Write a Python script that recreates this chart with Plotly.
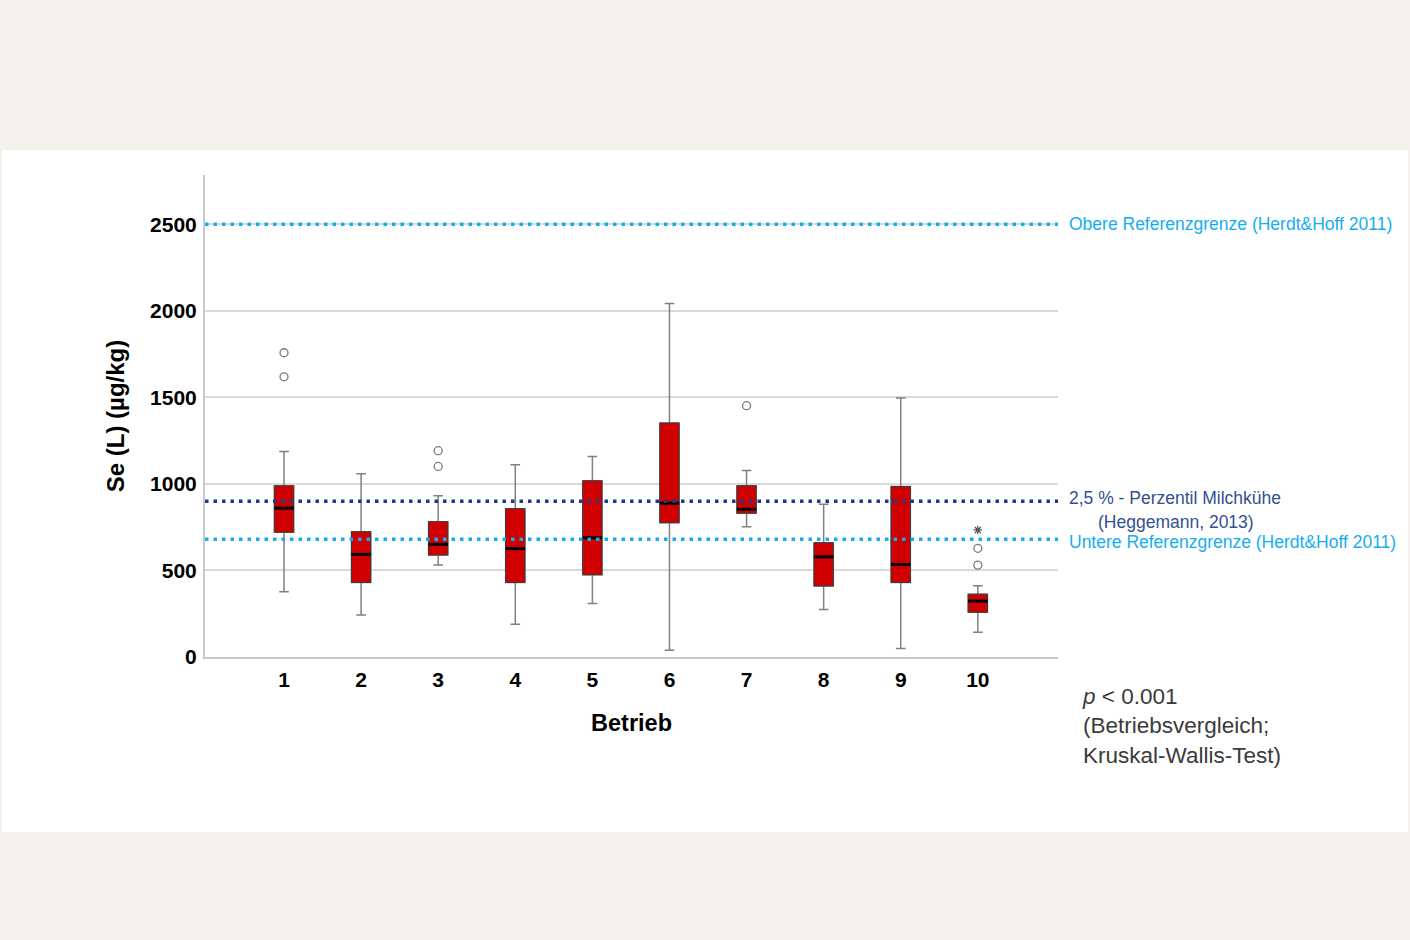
import plotly.graph_objects as go

# ---- data ----
betriebe = [1, 2, 3, 4, 5, 6, 7, 8, 9, 10]
tick_labels = ["1", "2", "3", "4", "5", "6", "7", "8", "9", "10"]
lowerfence = [377, 242, 531, 189, 309, 39, 753, 275, 49, 143]
q1 = [721, 431, 589, 431, 475, 776, 831, 410, 431, 259]
median = [860, 593, 651, 626, 689, 889, 854, 579, 535, 323]
q3 = [989, 724, 782, 857, 1018, 1352, 989, 660, 985, 363]
upperfence = [1188, 1059, 931, 1111, 1159, 2042, 1078, 883, 1497, 411]

outlier_x = [1, 1, 3, 3, 7, 10, 10]
outlier_y = [1758, 1619, 1192, 1101, 1452, 628, 531]
extreme_x = [10]
extreme_y = [734]

ref_upper = 2500
ref_perz = 900
ref_lower = 680

# ---- style ----
BOX_W = 0.25
RED = "#d00000"
LIGHTBLUE = "#14aef0"
DARKBLUE = "#1e3a8a"
FONT = "Liberation Sans, Arial, sans-serif"

fig = go.Figure()

# whiskers (gray)
fig.add_trace(go.Box(
    x=betriebe, q1=q1, median=median, q3=q3,
    lowerfence=lowerfence, upperfence=upperfence,
    width=BOX_W, whiskerwidth=0.5,
    fillcolor=RED, line=dict(color="#808080", width=1.5),
    boxpoints=False, showlegend=False, hoverinfo="skip"))
# box body (dark outline)
fig.add_trace(go.Box(
    x=betriebe, q1=q1, median=median, q3=q3,
    lowerfence=q1, upperfence=q3,
    width=BOX_W, whiskerwidth=0,
    fillcolor=RED, line=dict(color="#3a3a3a", width=1),
    boxpoints=False, showlegend=False))

# medians (thick black)
mx, my = [], []
for p, m in zip(betriebe, median):
    mx += [p - BOX_W / 2, p + BOX_W / 2, None]
    my += [m, m, None]
fig.add_trace(go.Scatter(x=mx, y=my, mode="lines",
                         line=dict(color="black", width=3), showlegend=False,
                         hoverinfo="skip"))

# outliers
fig.add_trace(go.Scatter(x=outlier_x, y=outlier_y, mode="markers",
                         marker=dict(symbol="circle-open", size=8,
                                     color="#7a7a7a", line=dict(width=1.3)),
                         showlegend=False))
fig.add_trace(go.Scatter(x=extreme_x, y=extreme_y, mode="markers",
                         marker=dict(symbol="asterisk-open", size=7,
                                     color="#555555", line=dict(width=1.3)),
                         showlegend=False))

# reference lines
for val, col in [(ref_upper, LIGHTBLUE), (ref_perz, DARKBLUE), (ref_lower, LIGHTBLUE)]:
    fig.add_shape(type="line", xref="paper", yref="y", x0=0, x1=1.0, y0=val, y1=val,
                  line=dict(color=col, width=3.5, dash="3.5px,5px"), layer="above")

# white panel
fig.add_shape(type="rect", xref="paper", yref="paper",
              x0=(2 - 205) / 853, x1=(1408 - 205) / 853,
              y0=(940 - 832 - 283) / 482, y1=(940 - 150 - 283) / 482,
              fillcolor="white", line=dict(width=0), layer="below")

lx = (1067 - 205) / 853
ann = [
    ("Obere Referenzgrenze (Herdt&Hoff 2011)", lx, ref_upper, LIGHTBLUE),
    ("2,5 % - Perzentil Milchkühe", lx, ref_perz + 20, "#34508f"),
    ("(Heggemann, 2013)", (1096 - 205) / 853, ref_perz - 118, "#34508f"),
    ("Untere Referenzgrenze (Herdt&Hoff 2011)", lx, ref_lower - 14, LIGHTBLUE),
]
for t, x, y, c in ann:
    fig.add_annotation(text=t, xref="paper", yref="y", x=x, y=y,
                       xanchor="left", yanchor="middle", showarrow=False,
                       font=dict(family=FONT, size=17.5, color=c))

fig.add_annotation(text="<i>p</i> < 0.001<br>(Betriebsvergleich;<br>Kruskal-Wallis-Test)",
                   xref="paper", yref="paper", x=(1080 - 205) / 853, y=(940 - 682 - 283) / 482,
                   xanchor="left", yanchor="top", align="left", showarrow=False,
                   font=dict(family=FONT, size=22.5, color="#3a3a3a"))

fig.update_layout(
    width=1410, height=940,
    margin=dict(l=205, r=352, t=175, b=283),
    paper_bgcolor="#f4f1ec", plot_bgcolor="rgba(0,0,0,0)",
    boxmode="overlay",
    font=dict(family=FONT, color="black"),
    xaxis=dict(range=[-0.025, 11.04], tickmode="array", tickvals=betriebe,
               ticktext=tick_labels, showgrid=False, zeroline=False,
               showline=True, linecolor="#c8c8c8", linewidth=2, ticks="",
               ticklabelstandoff=3,
               tickfont=dict(family=FONT, size=21, color="black", weight="bold"),
               title=dict(text="Betrieb", standoff=24,
                          font=dict(family=FONT, size=23.5, color="black", weight="bold"))),
    yaxis=dict(range=[0, 2785], tickvals=[0, 500, 1000, 1500, 2000, 2500],
               showgrid=True, gridcolor="#d9d9d9", gridwidth=2, zeroline=False,
               showline=True, linecolor="#c8c8c8", linewidth=2, ticks="",
               ticklabelstandoff=2,
               tickfont=dict(family=FONT, size=21, color="black", weight="bold"),
               title=dict(text="Se (L) (µg/kg)", standoff=19,
                          font=dict(family=FONT, size=24, color="black", weight="bold"))),
)

fig.write_html("out.html")
